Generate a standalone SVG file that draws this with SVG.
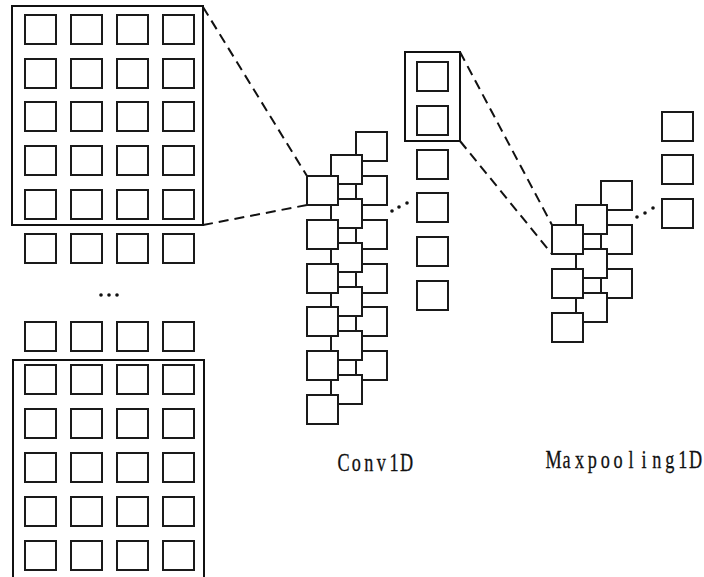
<svg xmlns="http://www.w3.org/2000/svg" width="704" height="577" viewBox="0 0 704 577">
<style>
.sq{fill:#fff;stroke:#1a1a1a;stroke-width:2}
.frame{fill:none;stroke:#111;stroke-width:2}
.dash{fill:none;stroke:#111;stroke-width:2;stroke-dasharray:10 6}
.dot{fill:#111}
.lbl{font-family:"Liberation Serif","DejaVu Serif",serif;font-size:26px;fill:#111;stroke:#111;stroke-width:0.3;text-anchor:middle}
</style>
<defs>
<rect id="s" class="sq" width="31" height="29"/>
</defs>
<rect width="704" height="577" fill="#fff"/>

<g id="connectors">
<line class="dash" x1="203" y1="7" x2="307" y2="176"/>
<line class="dash" x1="203" y1="225" x2="307" y2="205"/>
<line class="dash" x1="460" y1="52" x2="552" y2="225"/>
<line class="dash" x1="460" y1="141" x2="552" y2="254"/>
</g>

<g id="input-top">
<rect class="frame" x="12" y="6" width="191" height="219"/>
<use href="#s" x="25" y="15"/><use href="#s" x="71" y="15"/><use href="#s" x="117" y="15"/><use href="#s" x="163" y="15"/>
<use href="#s" x="25" y="59"/><use href="#s" x="71" y="59"/><use href="#s" x="117" y="59"/><use href="#s" x="163" y="59"/>
<use href="#s" x="25" y="102"/><use href="#s" x="71" y="102"/><use href="#s" x="117" y="102"/><use href="#s" x="163" y="102"/>
<use href="#s" x="25" y="146"/><use href="#s" x="71" y="146"/><use href="#s" x="117" y="146"/><use href="#s" x="163" y="146"/>
<use href="#s" x="25" y="190"/><use href="#s" x="71" y="190"/><use href="#s" x="117" y="190"/><use href="#s" x="163" y="190"/>
<use href="#s" x="25" y="234"/><use href="#s" x="71" y="234"/><use href="#s" x="117" y="234"/><use href="#s" x="163" y="234"/>
</g>

<g id="input-dots">
<circle class="dot" cx="101" cy="295" r="1.8"/><circle class="dot" cx="109" cy="295" r="1.8"/><circle class="dot" cx="117" cy="295" r="1.8"/>
</g>

<g id="input-bottom">
<use href="#s" x="25" y="322"/><use href="#s" x="71" y="322"/><use href="#s" x="117" y="322"/><use href="#s" x="163" y="322"/>
<path class="frame" d="M13,580 V360 H204 V580"/>
<use href="#s" x="25" y="365"/><use href="#s" x="71" y="365"/><use href="#s" x="117" y="365"/><use href="#s" x="163" y="365"/>
<use href="#s" x="25" y="409"/><use href="#s" x="71" y="409"/><use href="#s" x="117" y="409"/><use href="#s" x="163" y="409"/>
<use href="#s" x="25" y="453"/><use href="#s" x="71" y="453"/><use href="#s" x="117" y="453"/><use href="#s" x="163" y="453"/>
<use href="#s" x="25" y="497"/><use href="#s" x="71" y="497"/><use href="#s" x="117" y="497"/><use href="#s" x="163" y="497"/>
<use href="#s" x="25" y="541"/><use href="#s" x="71" y="541"/><use href="#s" x="117" y="541"/><use href="#s" x="163" y="541"/>
</g>

<g id="conv1d">
<use href="#s" x="356" y="132"/><use href="#s" x="356" y="176"/><use href="#s" x="356" y="220"/><use href="#s" x="356" y="264"/><use href="#s" x="356" y="307"/><use href="#s" x="356" y="351"/>
<use href="#s" x="331" y="155"/><use href="#s" x="331" y="199"/><use href="#s" x="331" y="243"/><use href="#s" x="331" y="287"/><use href="#s" x="331" y="331"/><use href="#s" x="331" y="375"/>
<use href="#s" x="307" y="176"/><use href="#s" x="307" y="220"/><use href="#s" x="307" y="264"/><use href="#s" x="307" y="307"/><use href="#s" x="307" y="351"/><use href="#s" x="307" y="395"/>
<circle class="dot" cx="392" cy="211" r="1.8"/><circle class="dot" cx="399" cy="207" r="1.8"/><circle class="dot" cx="407" cy="203" r="1.8"/>
<text class="lbl" transform="scale(0.7,1)" x="490.9 508.9 526.9 544.9 562.9 580.9" y="471">Conv1D</text>
</g>

<g id="feature-column">
<use href="#s" x="417" y="62"/><use href="#s" x="417" y="106"/><use href="#s" x="417" y="150"/><use href="#s" x="417" y="193"/><use href="#s" x="417" y="237"/><use href="#s" x="417" y="281"/>
<rect class="frame" x="405" y="52" width="55" height="89"/>
</g>

<g id="maxpooling1d">
<use href="#s" x="601" y="181"/><use href="#s" x="601" y="225"/><use href="#s" x="601" y="269"/>
<use href="#s" x="576" y="205"/><use href="#s" x="576" y="249"/><use href="#s" x="576" y="293"/>
<use href="#s" x="552" y="225"/><use href="#s" x="552" y="269"/><use href="#s" x="552" y="313"/>
<circle class="dot" cx="637" cy="217" r="1.8"/><circle class="dot" cx="645" cy="213" r="1.8"/><circle class="dot" cx="653" cy="208" r="1.8"/>
<text class="lbl" transform="scale(0.7,1)" x="791.0 809.4 827.9 846.3 864.7 883.1 901.6 920.0 938.4 956.9 975.3 993.7" y="468">Maxpooling1D</text>
</g>

<g id="output-column">
<use href="#s" x="662" y="112"/><use href="#s" x="662" y="155"/><use href="#s" x="662" y="199"/>
</g>
</svg>
